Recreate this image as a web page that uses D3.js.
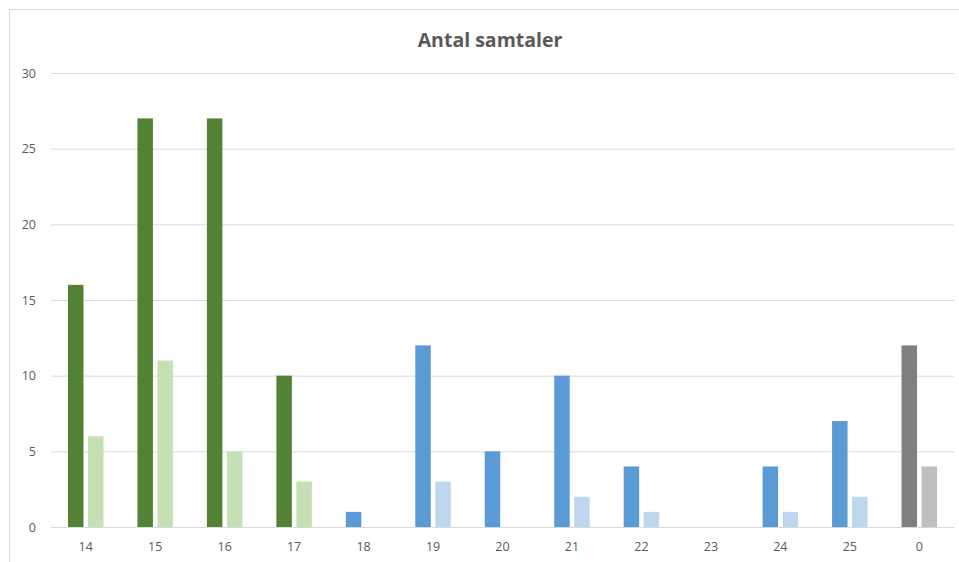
<!DOCTYPE html>
<html>
<head>
<meta charset="utf-8">
<script src="https://cdn.jsdelivr.net/npm/d3@7"></script>
<style>
  html, body { margin: 0; padding: 0; background: #fff; }
  svg { display: block; }
</style>
</head>
<body>
<svg id="chart" width="959" height="562"></svg>
<script>
// Categories (hour of day) and the two series per category
const categories = ["14", "15", "16", "17", "18", "19", "20", "21", "22", "23", "24", "25", "0"];
const seriesA = [16, 27, 27, 10, 1, 12, 5, 10, 4, 0, 4, 7, 12];
const seriesB = [6, 11, 5, 3, 0, 3, 0, 2, 1, 0, 1, 2, 4];
const yTicks = [0, 5, 10, 15, 20, 25, 30];
const title = "Antal samtaler";

// Colour group per category: green, blue, gray
const groupOf = c => (["14", "15", "16", "17"].includes(c) ? "green" : c === "0" ? "gray" : "blue");
const palette = {
  green: ["#548235", "#C5E0B4"],
  blue: ["#5B9BD5", "#BDD7EE"],
  gray: ["#7F7F7F", "#BFBFBF"]
};

const svg = d3.select("#chart");
const W = 959, H = 562;

// Outer frame
svg.append("rect")
  .attr("x", 9.5).attr("y", 9.5)
  .attr("width", W + 10).attr("height", H + 10)
  .attr("fill", "#fff").attr("stroke", "#D9D9D9").attr("stroke-width", 1);

const plot = { left: 51, right: 954, top: 73, bottom: 527 };

const x = d3.scaleBand().domain(categories).range([plot.left, plot.right]).paddingInner(0).paddingOuter(0);
const bw = 15.5, gap = 4.5;
const y = d3.scaleLinear().domain([0, 30]).range([plot.bottom, plot.top]);

// Title
svg.append("text")
  .attr("x", 490).attr("y", 47)
  .attr("text-anchor", "middle")
  .attr("font-family", "'Open Sans', sans-serif")
  .attr("font-weight", "bold")
  .attr("font-size", 19.5)
  .attr("fill", "#595959")
  .text(title);

// Gridlines and y labels
const yAxis = d3.axisLeft(y).tickValues(yTicks).tickSize(-(plot.right - plot.left)).tickPadding(15);
const gy = svg.append("g").attr("transform", `translate(${plot.left},0)`).call(yAxis);
gy.select(".domain").remove();
gy.selectAll(".tick line").attr("stroke", "#D9D9D9").attr("stroke-width", 1);
gy.selectAll(".tick text")
  .attr("font-family", "'Open Sans', sans-serif")
  .attr("font-size", 12.5)
  .attr("fill", "#595959");

// Bars
const rows = categories.map((c, i) => ({ c, a: seriesA[i], b: seriesB[i], g: groupOf(c) }));
const groups = svg.append("g").selectAll("g").data(rows).join("g");
groups.append("rect")
  .attr("x", d => x(d.c) + x.bandwidth() / 2 - gap / 2 - bw)
  .attr("y", d => y(d.a))
  .attr("width", bw)
  .attr("height", d => y(0) - y(d.a))
  .attr("fill", d => palette[d.g][0]);
groups.append("rect")
  .attr("x", d => x(d.c) + x.bandwidth() / 2 + gap / 2)
  .attr("y", d => y(d.b))
  .attr("width", bw)
  .attr("height", d => y(0) - y(d.b))
  .attr("fill", d => palette[d.g][1]);

// X axis
const xAxis = d3.axisBottom(x).tickSize(0).tickPadding(15);
const gx = svg.append("g").attr("transform", `translate(0,${plot.bottom})`).call(xAxis);
gx.select(".domain").attr("stroke", "#D9D9D9");
gx.selectAll(".tick text")
  .attr("font-family", "'Open Sans', sans-serif")
  .attr("font-size", 12.5)
  .attr("fill", "#595959");
</script>
</body>
</html>
